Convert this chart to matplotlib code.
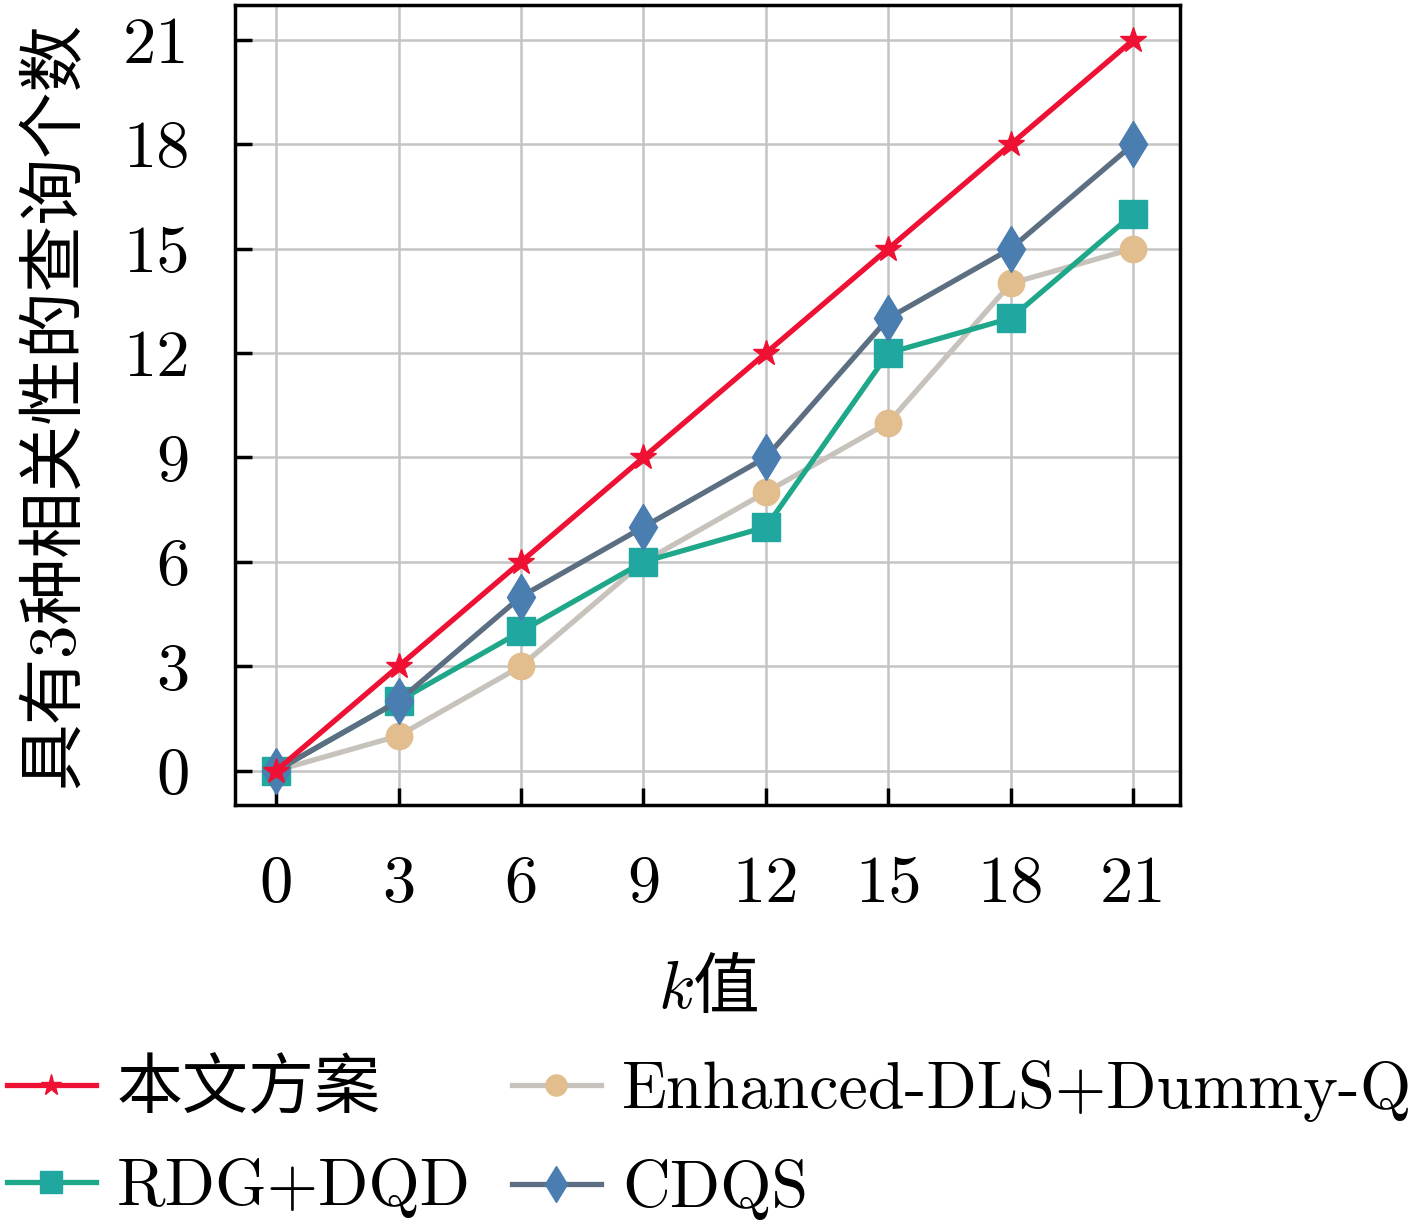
import numpy as np
import matplotlib
matplotlib.use("Agg")
import matplotlib.pyplot as plt
from matplotlib.ticker import FixedLocator

# fonts: computer-modern look for latin, CJK fallback
plt.rcParams["font.family"] = ["cmr10", "Noto Sans CJK SC"]
plt.rcParams["mathtext.fontset"] = "cm"
plt.rcParams["axes.unicode_minus"] = False
plt.rcParams["axes.formatter.use_mathtext"] = True

# data
k_values = [0, 3, 6, 9, 12, 15, 18, 21]
ours = [0, 3, 6, 9, 12, 15, 18, 21]
rdg_dqd = [0, 2, 4, 6, 7, 12, 13, 16]
enhanced_dls = [0, 1, 3, 6, 8, 10, 14, 15]
cdqs = [0, 2, 5, 7, 9, 13, 15, 18]
y_ticks = [0, 3, 6, 9, 12, 15, 18, 21]

fig = plt.figure(figsize=(14.17, 12.26), dpi=100)
ax = fig.add_axes([0.166, 0.343, 0.667, 0.653])

fs = 48
lw = 3.8
ax.plot(k_values, ours, color="#ee1133", lw=lw, marker="*", ms=19,
        mfc="#ee1133", mec="#ee1133", label="本文方案", zorder=6)
ax.plot(k_values, rdg_dqd, color="#1fa78a", lw=lw, marker="s", ms=20,
        mfc="#20a8a0", mec="#20a8a0", label="RDG+DQD", zorder=4)
ax.plot(k_values, enhanced_dls, color="#c8c2bc", lw=lw, marker="o", ms=19,
        mfc="#e2bd8e", mec="#e2bd8e", label="Enhanced-DLS+Dummy-Q", zorder=3)
ax.plot(k_values, cdqs, color="#5c6f82", lw=lw, marker="d", ms=23,
        mfc="#4a7db0", mec="#4a7db0", label="CDQS", zorder=5)

ax.set_xlim(-1, 22.15)
ax.set_ylim(-1, 22)
ax.xaxis.set_major_locator(FixedLocator(k_values))
ax.yaxis.set_major_locator(FixedLocator(y_ticks))
ax.set_xticklabels([str(v) for v in k_values])
ax.set_yticklabels([str(v) for v in y_ticks])

ax.grid(True, color="#c4c4c4", lw=1.8)
ax.set_axisbelow(True)
for s in ax.spines.values():
    s.set_linewidth(2.5)
ax.tick_params(direction="in", length=12, width=2.5, labelsize=fs)
ax.tick_params(axis="x", pad=36)
ax.tick_params(axis="y", pad=33)

ax.set_xlabel("$k$值", fontsize=fs, labelpad=29, family=["Noto Sans CJK SC"])
ax.set_ylabel("具有3种相关性的查询个数", fontsize=fs, labelpad=26)

handles, labels = ax.get_legend_handles_labels()
fig.legend(handles, labels,
           loc="upper left", bbox_to_anchor=(0.0, 0.141), ncol=2,
           frameon=False, fontsize=47.5, handlelength=1.35, handletextpad=0.32,
           columnspacing=0.62, labelspacing=0.55, borderaxespad=0, borderpad=0.1,
           markerscale=0.8)

fig.savefig("out.png", dpi=100)
